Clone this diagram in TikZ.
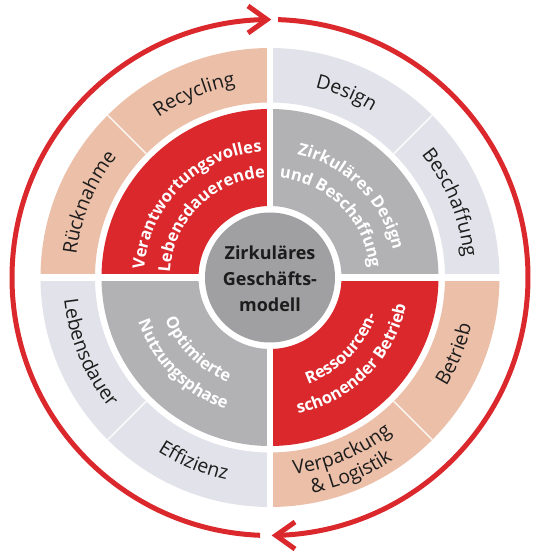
\documentclass[tikz,border=0pt]{standalone}
\usepackage{fontspec}
\setmainfont{Open Sans}
\usetikzlibrary{decorations.text}

\definecolor{abbred}{RGB}{218,40,45}
\definecolor{ringgrey}{RGB}{178,178,180}
\definecolor{coregrey}{RGB}{160,160,162}
\definecolor{beige}{RGB}{235,191,168}
\definecolor{lav}{RGB}{226,226,234}
\definecolor{ink}{RGB}{28,28,28}

\newcommand{\ringsector}[5]{% colour, r-inner, r-outer, a1, a2
  \fill[#1] (#4:#2) arc[start angle=#4, end angle=#5, radius=#2] -- (#5:#3)
    arc[start angle=#5, end angle=#4, radius=#3] -- cycle;}
% #1 baseline radius, #2 centre angle, #3 direction (-1 cw, 1 ccw), #4 format, #5 text
\newcommand{\ringtext}[5]{%
  \path[decorate,decoration={text along path,text align=center,text={|#4|#5}}]
    ({#2-#3*60}:#1) arc[start angle={#2-#3*60}, end angle={#2+#3*60}, radius=#1];}
\newcommand{\outerfmt}{\fontsize{19.5pt}{23pt}\selectfont\color{ink}}
\newcommand{\innerfmt}{\fontsize{16.5pt}{20pt}\selectfont\bfseries\color{white}}

\tikzset{
  divider/.style={white, opacity=0.8, line width=1.5pt},
  loopline/.style={abbred, line width=5pt},
  chevron/.style={abbred, line width=5pt, line join=miter},
  coretext/.style={font=\fontsize{18pt}{26pt}\selectfont\bfseries, text=ink, align=center}
}

\begin{document}
\begin{tikzpicture}[x=1pt,y=1pt]
\useasboundingbox (-270,-278.5) rectangle (270,277.5);

% outer ring
\ringsector{lav}{175}{229.5}{0}{90}
\ringsector{beige}{175}{229.5}{90}{180}
\ringsector{lav}{175}{229.5}{180}{270}
\ringsector{beige}{175}{229.5}{270}{360}
% inner ring
\ringsector{ringgrey}{71.5}{168.5}{0}{90}
\ringsector{abbred}{71.5}{168.5}{90}{180}
\ringsector{ringgrey}{71.5}{168.5}{180}{270}
\ringsector{abbred}{71.5}{168.5}{270}{360}
% white cross gaps
\fill[white] (-3,-232) rectangle (3,232);
\fill[white] (-232,-3.5) rectangle (232,3.5);
% dividers in outer ring
\foreach \a in {45,135,225,315} \draw[divider] (\a:175) -- (\a:229.5);

% core
\fill[coregrey] (0,0) circle[radius=65];
\node[coretext] (core) at (0,-1.5) {Zirkuläres\\Geschäfts-\\modell};

% inner ring texts
\ringtext{126}{135}{-1}{\innerfmt}{Verantwortungsvolles}
\ringtext{100}{135}{-1}{\innerfmt}{Lebensdauerende}
\ringtext{126}{45}{-1}{\innerfmt}{Zirkuläres Design}
\ringtext{100}{45}{-1}{\innerfmt}{und Beschaffung}
\ringtext{113}{315}{1}{\innerfmt}{Ressourcen-}
\ringtext{139}{315}{1}{\innerfmt}{schonender Betrieb}
\ringtext{113}{225}{1}{\innerfmt}{Optimierte}
\ringtext{139}{225}{1}{\innerfmt}{Nutzungsphase}

% outer ring texts
\ringtext{195}{112.5}{-1}{\outerfmt}{Recycling}
\ringtext{195}{157.5}{-1}{\outerfmt}{Rücknahme}
\ringtext{195}{67.5}{-1}{\outerfmt}{Design}
\ringtext{195}{22.5}{-1}{\outerfmt}{Beschaffung}
\ringtext{207}{337.5}{1}{\outerfmt}{Betrieb}
\ringtext{198}{292.5}{1}{\outerfmt}{Verpackung}
\ringtext{220}{292.5}{1}{\outerfmt}{{\&} Logistik}
\ringtext{207}{247.5}{1}{\outerfmt}{Effizienz}
\ringtext{207}{202.5}{1}{\outerfmt}{Lebensdauer}

% circular arrows
\coordinate (lstart) at (267.8:258);
\coordinate (ltip) at (90.67:258);
\coordinate (tarmA) at (-22,271.5);
\coordinate (tarmB) at (-22,244.5);
\coordinate (rstart) at (88.2:258);
\coordinate (rtip) at (-88.67:258);
\coordinate (barmA) at (25,-244.5);
\coordinate (barmB) at (25,-271.5);
\draw[loopline] (lstart) arc[start angle=267.8, end angle=90.67, radius=258];
\draw[chevron] (tarmA) -- (ltip) -- (tarmB);
\draw[loopline] (rstart) arc[start angle=88.2, end angle=-88.67, radius=258];
\draw[chevron] (barmA) -- (rtip) -- (barmB);
\end{tikzpicture}
\end{document}
